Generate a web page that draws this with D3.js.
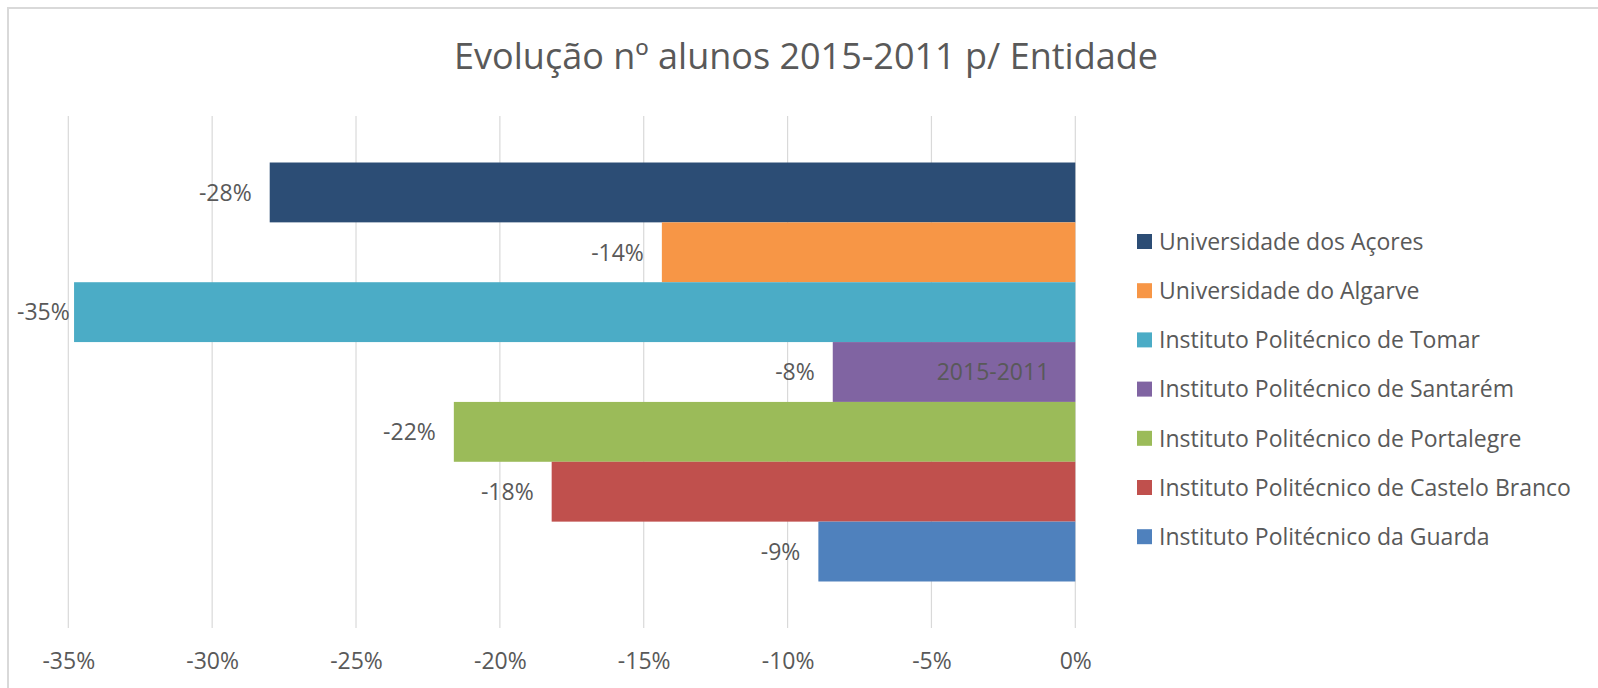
<!DOCTYPE html>
<html>
<head>
<meta charset="utf-8">
<script src="https://cdn.jsdelivr.net/npm/d3@7"></script>
<style>
  body { margin: 0; background: #fff; }
  svg text { font-family: "Open Sans", "Noto Sans", sans-serif; fill: #595959; }
</style>
</head>
<body>
<div id="chart"></div>
<script>
// Evolução nº alunos 2015-2011, horizontal clustered bars (one category, 7 series)

var titleText = "Evolução nº alunos 2015-2011 p/ Entidade";
var categoryName = "2015-2011";
var entidades = [
    "Universidade dos Açores",
    "Universidade do Algarve",
    "Instituto Politécnico de Tomar",
    "Instituto Politécnico de Santarém",
    "Instituto Politécnico de Portalegre",
    "Instituto Politécnico de Castelo Branco",
    "Instituto Politécnico da Guarda"
];
var evolucao = [-0.28, -0.1437, -0.348, -0.0843, -0.216, -0.182, -0.0893];
var cores = ["#2c4d75", "#f79646", "#4bacc6", "#8064a2", "#9bbb59", "#c0504d", "#4f81bd"];
var ticks = [-0.35, -0.30, -0.25, -0.20, -0.15, -0.10, -0.05, 0];

var width = 1598, height = 688;

var svg = d3.select("#chart")
    .append("svg")
    .attr("width", width)
    .attr("height", height);

// chart area border (left + top only visible in the crop)
svg.append("path")
    .attr("d", "M8," + height + "V8H" + width)
    .attr("fill", "none")
    .attr("stroke", "#d9d9d9")
    .attr("stroke-width", 2);

// title
svg.append("text")
    .attr("x", 806)
    .attr("y", 69)
    .attr("text-anchor", "middle")
    .style("font-size", "36px")
    .text(titleText);

var plot = { left: 68.3, right: 1075.3, top: 116, bottom: 628 };

var x = d3.scaleLinear()
    .domain([-0.35, 0])
    .range([plot.left, plot.right]);

// one category band, series split inside it
var y0 = d3.scaleBand()
    .domain([categoryName])
    .range([plot.top, plot.bottom])
    .paddingInner(0)
    .paddingOuter(0.111);

var y1 = d3.scaleBand()
    .domain(entidades)
    .range([0, y0.bandwidth()]);

// gridlines
svg.append("g")
    .selectAll("line")
    .data(ticks)
    .enter()
    .append("line")
    .attr("x1", function(d) { return x(d); })
    .attr("x2", function(d) { return x(d); })
    .attr("y1", plot.top)
    .attr("y2", plot.bottom)
    .attr("stroke", "#d9d9d9")
    .attr("stroke-width", 1.2);

// x axis labels
var xAxis = d3.axisBottom(x)
    .tickValues(ticks)
    .tickSize(0)
    .tickPadding(0)
    .tickFormat(function(d) { return Math.round(d * 100) + "%"; });

var gx = svg.append("g")
    .attr("transform", "translate(0," + plot.bottom + ")")
    .call(xAxis);
gx.select(".domain").remove();
gx.attr("font-family", null).attr("font-size", null);
gx.selectAll("text")
    .attr("y", 41)
    .attr("dy", 0)
    .attr("fill", null)
    .style("font-size", "23px");

// bars
var bars = svg.append("g")
    .attr("transform", "translate(0," + y0(categoryName) + ")");

bars.selectAll("rect")
    .data(evolucao)
    .enter()
    .append("rect")
    .attr("x", function(d) { return x(d); })
    .attr("y", function(d, i) { return y1(entidades[i]); })
    .attr("width", function(d) { return x(0) - x(d); })
    .attr("height", y1.bandwidth())
    .attr("fill", function(d, i) { return cores[i]; });

// category label sits next to the axis (at 0%) inside the bars
svg.append("text")
    .attr("x", x(0) - 26)
    .attr("y", y0(categoryName) + y0.bandwidth() / 2)
    .attr("dy", "0.36em")
    .attr("text-anchor", "end")
    .style("font-size", "23px")
    .text(categoryName);

// data labels, outside end; kept inside chart area
bars.selectAll("text.lbl")
    .data(evolucao)
    .enter()
    .append("text")
    .attr("class", "lbl")
    .attr("y", function(d, i) { return y1(entidades[i]) + y1.bandwidth() / 2; })
    .attr("dy", "0.36em")
    .attr("text-anchor", "end")
    .style("font-size", "23px")
    .text(function(d) { return Math.round(d * 100) + "%"; })
    .attr("x", function(d) {
        var w = this.getComputedTextLength();
        return Math.max(x(d) - 18, 17 + w);
    });

// legend
var legend = svg.append("g")
    .attr("transform", "translate(1137,234)");

var item = legend.selectAll("g")
    .data(entidades)
    .enter()
    .append("g")
    .attr("transform", function(d, i) { return "translate(0," + (i * 49.2) + ")"; });

item.append("rect")
    .attr("width", 15)
    .attr("height", 15)
    .attr("fill", function(d, i) { return cores[i]; });

item.append("text")
    .attr("x", 22)
    .attr("y", 7.5)
    .attr("dy", "0.36em")
    .style("font-size", "23px")
    .text(function(d) { return d; });
</script>
</body>
</html>
